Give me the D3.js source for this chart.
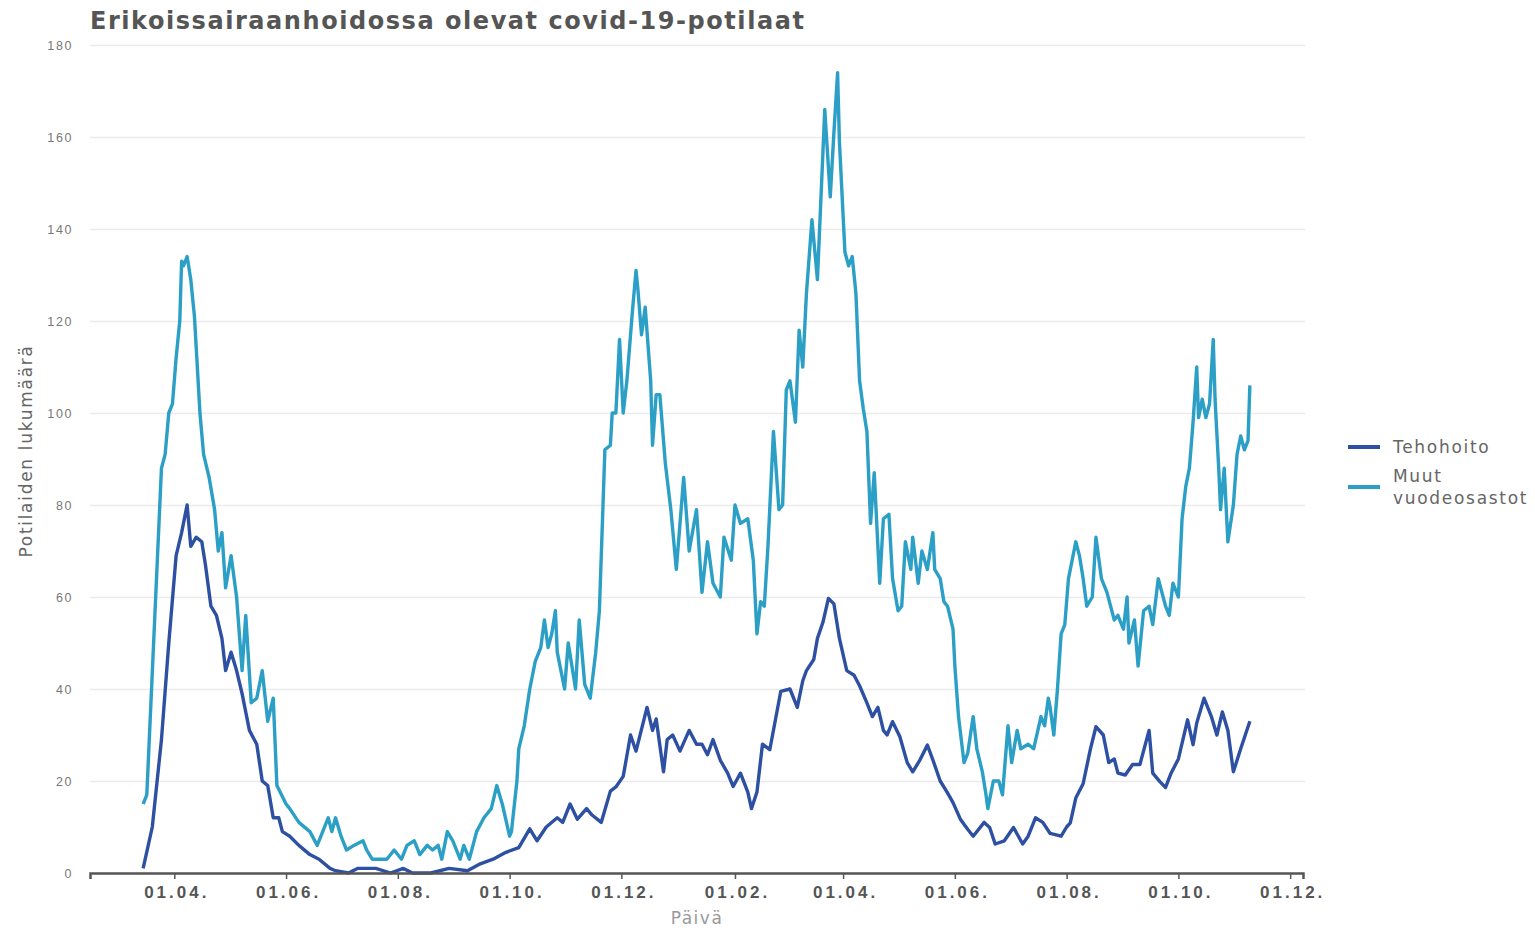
<!DOCTYPE html>
<html>
<head>
<meta charset="utf-8">
<script src="https://cdnjs.cloudflare.com/ajax/libs/d3/7.8.5/d3.min.js"></script>
<style>
  body { margin: 0; background: #fff; font-family: "DejaVu Sans", sans-serif; }
  .grid line { stroke: #ebebeb; stroke-width: 1.5; }
  .grid path { display: none; }
  .yaxis path, .yaxis line { display: none; }
  .yaxis text { fill: #777; font-size: 12.5px; letter-spacing: 1.6px; }
  .xaxis path { stroke: #555; stroke-width: 2.5; }
  .xaxis line { stroke: #555; stroke-width: 1.5; }
  .xaxis text { fill: #555; font-size: 17px; font-weight: bold; letter-spacing: 3px; }
</style>
</head>
<body>
<svg id="chart" width="1535" height="930"></svg>
<script>
// days since 1.4.2020 and patient counts
const muutDays = [-17,-15,-7,-5,-3,-1,1,3,4,5,7,9,11,14,16,19,22,24,26,28,31,34,37,39,42,45,48,51,54,56,61,
  63,68,74,78,81,84,86,88,91,94,98,103,105,108,116,120,124,127,131,134,138,141,144,146,149,152,156,158,161,165,
  169,173,176,179,183,184,187,188,191,194,197,200,202,204,206,208,209,213,215,219,221,224,227,230,232,235,238,
  239,241,243,245,247,250,252,253,255,257,260,261,263,265,268,271,274,278,281,285,288,291,294,298,300,304,306,
  309,313,316,318,320,322,324,327,330,332,334,336,339,341,343,345,348,351,355,358,360,362,363,366,368,370,372,
  374,376,378,380,382,385,387,390,392,395,397,399,402,403,406,408,411,414,415,418,420,422,425,426,428,431,433,
  436,438,441,443,444,447,450,452,455,457,460,462,466,469,473,475,477,478,480,482,484,486,488,492,494,496,498,
  501,503,506,509,513,515,518,520,521,524,526,529,532,534,537,541,543,545,548,550,552,554,556,558,559,561,563,
  565,567,568,570,571,573,575,578,580,582,584,586,587];
const muutVals = [15,17,88,91,100,102,112,120,133,132,134,129,121,100,91,86,79,70,74,62,69,60,44,56,37,38,44,33,38,19,15,
  14,11,9,6,9,12,9,12,8,5,6,7,5,3,3,5,3,6,7,4,6,5,6,3,9,7,3,6,3,9,
  12,14,19,15,8,9,20,27,32,40,46,49,55,49,52,57,48,40,50,40,55,41,38,48,57,92,93,
  100,100,116,100,107,122,131,127,117,123,107,93,104,104,89,79,66,86,70,79,61,72,63,60,73,68,80,
  76,77,68,52,59,58,71,96,79,80,105,107,98,118,110,126,142,129,166,147,161,174,159,135,132,134,126,
  107,101,96,76,87,63,77,78,64,57,58,72,66,73,63,70,66,74,66,64,59,58,53,45,34,24,26,
  34,27,22,17,14,20,20,17,32,24,31,27,28,27,34,32,38,36,30,40,52,54,64,72,69,64,58,
  60,73,64,61,55,56,53,60,50,55,45,57,58,54,64,58,56,63,60,77,84,88,98,110,99,103,99,
  102,116,103,88,79,88,72,80,91,95,92,94,106];

const tehoDays = [-17,-12,-7,-3,1,4,7,9,12,15,17,20,23,26,28,31,34,37,41,45,48,51,54,57,59,63,68,74,79,85,
  88,95,100,110,118,125,130,140,150,160,167,174,181,188,194,198,203,209,212,216,220,225,228,233,238,241,245,
  249,252,258,261,263,267,269,272,276,281,285,288,291,294,298,302,305,309,313,315,318,321,325,331,336,340,343,
  345,349,351,354,357,360,363,367,371,374,378,381,384,387,389,392,396,400,403,407,411,414,418,422,425,429,433,
  436,442,445,448,453,458,463,466,470,474,478,484,487,489,492,496,500,503,507,510,513,515,519,523,527,532,534,
  538,541,544,548,553,556,558,562,566,569,572,575,578,582,587];
const tehoVals = [1,10,29,50,69,74,80,71,73,72,67,58,56,51,44,48,44,39,31,28,20,19,12,12,9,8,6,4,3,1,
  0.5,0,1,1,0,1,0,0,1,0.5,2,3,4.5,5.5,9.6,7,10,12,11,15,11.7,14,12.6,11,17.8,18.7,21,
  30,26.5,36,31,33.5,22,29,30,26.5,31,28,28,25.7,29,24.5,21.7,18.8,21.7,17.6,14,17.6,28,26.8,39.5,40,36,41.8,
  44,46.4,51,54.5,59.7,58.5,51,44,43,40.7,37,34,36,31,30,32.9,29.6,24,22,24.6,27.8,24.6,20,17.4,15.3,11.7,9.5,
  8,11,9.9,6.3,7,9.9,6.3,8,12,11,8.6,8,10,10.9,16.3,19.4,27,31.8,30,24,24.8,21.7,21.3,23.6,23.6,31,21.7,
  19.8,18.6,21.7,24.8,33.3,27.9,32.6,38,34,30,35,31,22,27,33];

const tickDates = ["2020-04-01","2020-06-01","2020-08-01","2020-10-01","2020-12-01","2021-02-01",
  "2021-04-01","2021-06-01","2021-08-01","2021-10-01","2021-12-01"];
const yTicks = [0,20,40,60,80,100,120,140,160,180];

const seriesNames = ["Tehohoito", "Muut\nvuodeosastot"];
const colors = ["#2d50a2", "#2b9fc6"];

const start = new Date(2020, 3, 1);
const toDate = d => d3.timeDay.offset(start, d);

const svg = d3.select("#chart");
const margin = { left: 90, right: 232, top: 45, bottom: 57 };
const W = 1535, H = 930;

const x = d3.scaleTime()
  .domain([new Date(2020, 1, 15), new Date(2021, 11, 8)])
  .range([margin.left, W - margin.right]);
const y = d3.scaleLinear().domain([0, 180]).range([H - margin.bottom, margin.top]);

// grid
svg.append("g").attr("class", "grid")
  .attr("transform", `translate(${margin.left},0)`)
  .call(d3.axisLeft(y).tickValues(yTicks.slice(1)).tickSize(-(W - margin.right - margin.left + 2)).tickFormat(""));

// y axis labels
svg.append("g").attr("class", "yaxis")
  .attr("transform", `translate(${margin.left - 14},0)`)
  .call(d3.axisLeft(y).tickValues(yTicks).tickSize(0));

// lines
const line = d3.line().x(d => x(toDate(d[0]))).y(d => y(d[1]));
const series = [d3.zip(tehoDays, tehoVals), d3.zip(muutDays, muutVals)];
[1, 0].forEach(i => {
  svg.append("path")
    .datum(series[i])
    .attr("fill", "none")
    .attr("stroke", colors[i])
    .attr("stroke-width", 3.4)
    .attr("stroke-linejoin", "round")
    .attr("d", line);
});

// x axis
svg.append("g").attr("class", "xaxis")
  .attr("transform", `translate(0,${y(0)})`)
  .call(d3.axisBottom(x)
    .tickValues(tickDates.map(d => new Date(d + "T00:00")))
    .tickFormat(d3.timeFormat("%d.%m."))
    .tickSize(6).tickSizeOuter(6).tickPadding(7))
  .selectAll("text").attr("dx", 2);

// titles
svg.append("text")
  .attr("x", 90).attr("y", 29)
  .style("font-size", "24px").style("font-weight", "bold").style("fill", "#555")
  .style("letter-spacing", "1.55px")
  .text("Erikoissairaanhoidossa olevat covid-19-potilaat");

svg.append("text")
  .attr("transform", `translate(32,${(y(0) + y(180)) / 2 - 8}) rotate(-90)`)
  .attr("text-anchor", "middle")
  .style("font-size", "17px").style("fill", "#666").style("letter-spacing", "1.7px")
  .text("Potilaiden lukumäärä");

svg.append("text")
  .attr("x", 697).attr("y", 924)
  .attr("text-anchor", "middle")
  .style("font-size", "17px").style("fill", "#999").style("letter-spacing", "1.5px")
  .text("Päivä");

// legend
const legend = svg.append("g").attr("transform", "translate(1348,447)");
seriesNames.forEach((name, i) => {
  const g = legend.append("g").attr("transform", `translate(0,${i * 40})`);
  g.append("line").attr("x1", 0).attr("x2", 32).attr("y1", 0).attr("y2", 0)
    .attr("stroke", colors[i]).attr("stroke-width", 4);
  const t = g.append("text").attr("x", 45).attr("y", i ? -5 : 6)
    .style("font-size", "17px").style("fill", "#666").style("letter-spacing", "1.7px");
  name.split("\n").forEach((s, j) => t.append("tspan").attr("x", 45).attr("dy", j ? 22 : 0).text(s));
});
</script>
</body>
</html>
